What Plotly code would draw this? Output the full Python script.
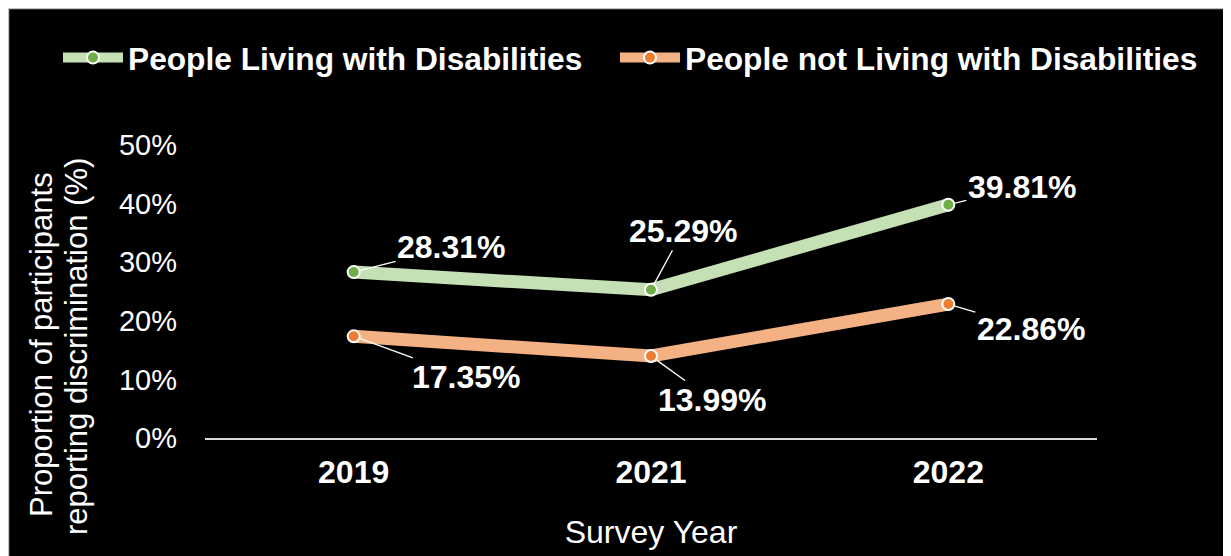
import plotly.graph_objects as go

years = ["2019", "2021", "2022"]
with_dis = [28.31, 25.29, 39.81]
without_dis = [17.35, 13.99, 22.86]
series_names = ["People Living with Disabilities", "People not Living with Disabilities"]
y_ticks = [0, 10, 20, 30, 40, 50]
y_tick_text = ["0%", "10%", "20%", "30%", "40%", "50%"]

OFF = 8  # page body margin
W, H = 1231 - OFF, 556 - OFF
L, R, T, B = 197, 134, 137, 118
PW, PH = W - L - R, H - T - B
FONT = "Liberation Sans, Arial, sans-serif"

def px(sx):
    return (sx - OFF - L) / PW

def py(sy):
    return (H - B - (sy - OFF)) / PH

fig = go.Figure()
fig.add_trace(go.Scatter(
    x=years, y=with_dis, name=series_names[0], mode="lines+markers",
    line=dict(color="#C5E0B4", width=13), legend="legend",
    marker=dict(color="#70AD47", size=12, line=dict(color="white", width=2)),
))
fig.add_trace(go.Scatter(
    x=years, y=without_dis, name=series_names[1], mode="lines+markers",
    line=dict(color="#F4B183", width=13), legend="legend2",
    marker=dict(color="#ED7D31", size=12, line=dict(color="white", width=2)),
))

# data labels with leader lines (offsets in px)
offsets_with = [(98, -25), (32, -59), (74, -18)]
offsets_without = [(113, 41), (61, 44), (83, 25)]
annotations = []
for vals, offs in ((with_dis, offsets_with), (without_dis, offsets_without)):
    for i, (v, (ax, ay)) in enumerate(zip(vals, offs)):
        annotations.append(dict(
            x=i, y=v, xref="x", yref="y", text=f"{v:.2f}%",
            showarrow=True, arrowhead=0, arrowcolor="white", arrowwidth=1.3,
            ax=ax, ay=ay, standoff=7,
            font=dict(family=FONT, size=32, color="white", weight="bold"),
        ))

# y axis title (two lines)
annotations.append(dict(
    x=px(41), y=py(345), xref="paper", yref="paper", text="Proportion of participants",
    showarrow=False, textangle=-90, xanchor="center", yanchor="middle",
    font=dict(family=FONT, size=31, color="white"),
))
annotations.append(dict(
    x=px(76), y=py(347), xref="paper", yref="paper", text="reporting discrimination (%)",
    showarrow=False, textangle=-90, xanchor="center", yanchor="middle",
    font=dict(family=FONT, size=31, color="white"),
))

shapes = [dict(
    type="rect", xref="paper", yref="paper", layer="below",
    x0=px(OFF + 0.5), x1=px(1231 + 10), y0=py(556 + 10), y1=py(OFF + 0.5),
    fillcolor="black", line=dict(color="#BFBFBF", width=1.5),
)]

legend_style = dict(
    orientation="h", yanchor="middle", xanchor="left", y=py(58),
    font=dict(family=FONT, size=31.7, color="white", weight="bold"),
    bgcolor="rgba(0,0,0,0)", itemwidth=60,
)

fig.update_layout(
    width=W, height=H,
    margin=dict(l=L, r=R, t=T, b=B, autoexpand=False),
    paper_bgcolor="black", plot_bgcolor="black",
    font=dict(family=FONT, color="white"),
    showlegend=True,
    legend=dict(legend_style, x=px(58)),
    legend2=dict(legend_style, x=px(615)),
    xaxis=dict(
        type="category", range=[-0.5, 2.5], showgrid=False, zeroline=False,
        showline=True, linecolor="#D9D9D9", linewidth=1.5, ticks="",
        tickfont=dict(family=FONT, size=32, color="white", weight="bold"),
        ticklabelstandoff=5,
        title=dict(text="Survey Year", font=dict(family=FONT, size=32, color="white"), standoff=31),
    ),
    yaxis=dict(
        range=[0, 50], tickvals=y_ticks, ticktext=y_tick_text, showgrid=False,
        zeroline=False, showline=False, ticks="",
        tickfont=dict(family=FONT, size=29, color="white"),
        ticklabelstandoff=27,
    ),
    annotations=annotations,
    shapes=shapes,
)

fig.write_html("out.html")
